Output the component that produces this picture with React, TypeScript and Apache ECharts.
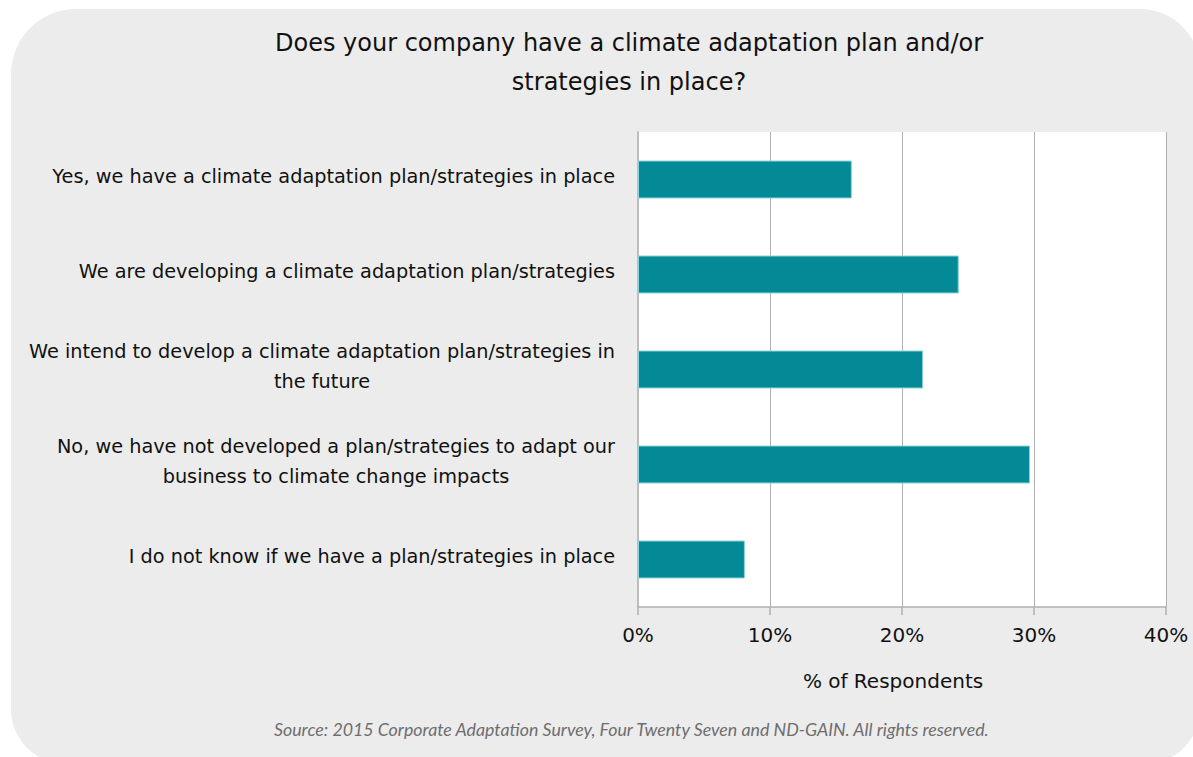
import React, { useEffect, useRef } from "react";
import * as echarts from "echarts";

const titleText = "Does your company have a climate adaptation plan and/or\nstrategies in place?";
const categories = [
  "Yes, we have a climate adaptation plan/strategies in place",
  "We are developing a climate adaptation plan/strategies",
  "We intend to develop a climate adaptation plan/strategies in\nthe future",
  "No, we have not developed a plan/strategies to adapt our\nbusiness to climate change impacts",
  "I do not know if we have a plan/strategies in place",
];
const values = [16.2, 24.3, 21.6, 29.7, 8.1];
const axisName = "% of Respondents";
const sourceText =
  "Source: 2015 Corporate Adaptation Survey, Four Twenty Seven and ND-GAIN. All rights reserved.";

const FONT = "'DejaVu Sans', sans-serif";

export default function App() {
  const ref = useRef<HTMLDivElement>(null);
  useEffect(() => {
    if (!ref.current) return;
    const chart = echarts.init(ref.current, undefined, { renderer: "svg" });
    chart.setOption({
      animation: false,
      backgroundColor: "#ffffff",
      graphic: [
        {
          type: "rect",
          z: -10,
          silent: true,
          shape: { x: 11, y: 9, width: 1189, height: 755, r: [65, 60, 55, 55] },
          style: { fill: "#ececec" },
        },
        {
          type: "text",
          left: 274,
          top: 720,
          style: {
            text: sourceText,
            fill: "#6e6e6e",
            font: "italic 17.8px Lato, sans-serif",
          },
        },
      ],
      title: {
        text: titleText,
        left: 624,
        textAlign: "center",
        top: 18,
        textStyle: {
          fontFamily: FONT,
          fontSize: 24,
          fontWeight: "normal",
          color: "#111",
          lineHeight: 39,
        },
      },
      grid: {
        left: 638,
        right: 27,
        top: 132,
        bottom: 150,
        show: true,
        backgroundColor: "#ffffff",
        borderWidth: 0,
        containLabel: false,
      },
      xAxis: {
        type: "value",
        min: 0,
        max: 40,
        interval: 10,
        name: axisName,
        nameLocation: "middle",
        nameGap: 64,
        nameTextStyle: {
          fontFamily: FONT,
          fontSize: 20,
          color: "#111",
          padding: [0, 18, 0, 0],
        },
        axisLine: { show: true, lineStyle: { color: "#b0b0b0", width: 1.5 } },
        axisTick: { show: true, length: 8, lineStyle: { color: "#b0b0b0", width: 1.5 } },
        axisLabel: {
          formatter: "{value}%",
          margin: 18,
          fontFamily: FONT,
          fontSize: 20,
          color: "#111",
        },
        splitLine: { show: true, lineStyle: { color: "#b0b0b0", width: 1 } },
      },
      yAxis: {
        type: "category",
        inverse: true,
        data: categories,
        axisLine: { show: true, lineStyle: { color: "#bdbdbd", width: 2 } },
        axisTick: { show: false },
        axisLabel: {
          align: "right",
          margin: 23,
          formatter: (v: string) =>
            v
              .split("\n")
              .map((l) => `{c|${l}}`)
              .join("\n"),
          rich: {
            c: {
              align: "center",
              fontFamily: FONT,
              fontSize: 19.3,
              lineHeight: 30,
              color: "#111",
            },
          },
          padding: [0, 0, 6, 0],
        },
      },
      series: [
        {
          type: "bar",
          data: values,
          barWidth: 38,
          itemStyle: { color: "#038a96", borderColor: "#8fd3d8", borderWidth: 1 },
        },
      ],
    });
    return () => chart.dispose();
  }, []);
  return (
    <div
      ref={ref}
      style={{ position: "absolute", left: 0, top: 0, width: 1193, height: 757 }}
    />
  );
}
